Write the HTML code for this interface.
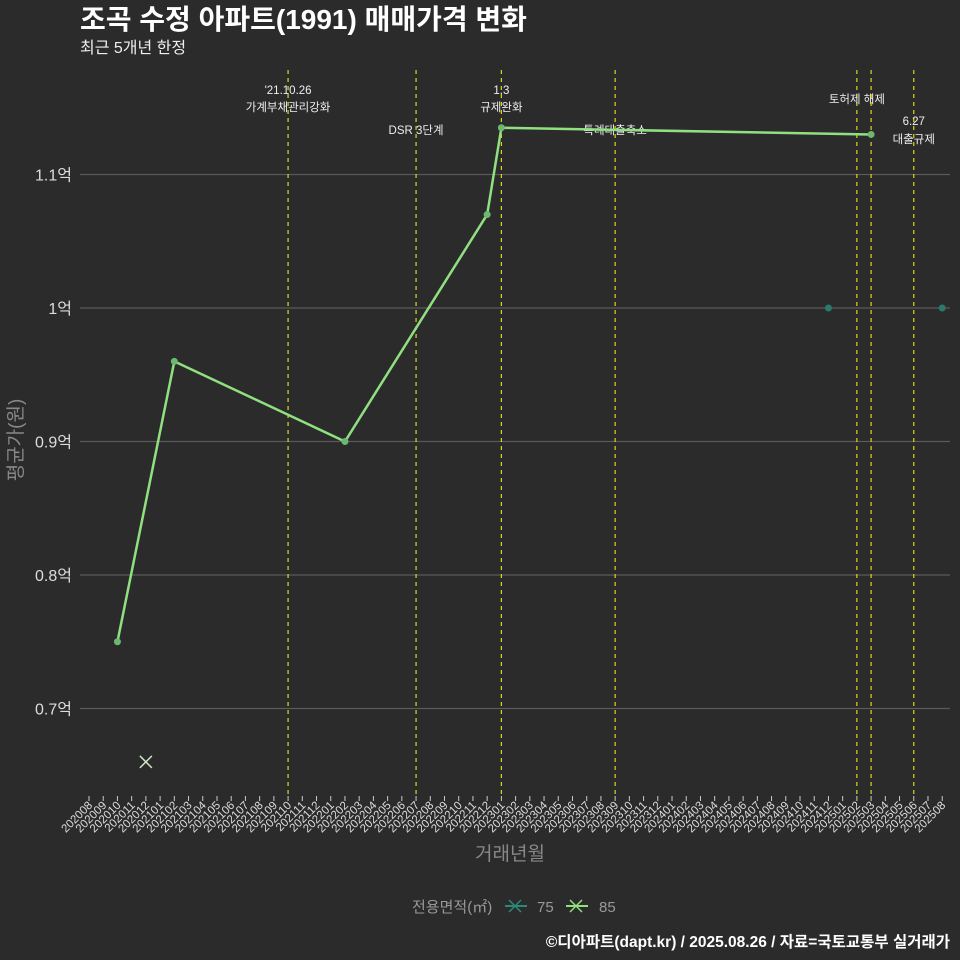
<!DOCTYPE html>
<html><head><meta charset="utf-8"><style>
body{margin:0;background:#2b2b2c;}
svg{display:block;font-family:"Liberation Sans","Noto Sans CJK KR",sans-serif;}
</style></head><body>
<svg id="chart" width="960" height="960">
<rect width="960" height="960" fill="#2b2b2c"/>
<text x="80" y="29" font-size="28" font-weight="bold" fill="#fff">조곡 수정 아파트(1991) 매매가격 변화</text>
<text x="80" y="53" font-size="16" fill="#eee">최근 5개년 한정</text>
<g id="grid"></g><g id="vlines"></g><g id="series"></g><g id="xaxis"></g><g id="yaxis"></g>
<text x="510" y="860" font-size="19" fill="#888" text-anchor="middle">거래년월</text>
<text transform="translate(22,440) rotate(-90)" font-size="19" fill="#888" text-anchor="middle">평균가(원)</text>
<g>
<text x="412" y="912" font-size="15" fill="#999">전용면적(㎡)</text>
<g><line x1="505" y1="906" x2="527" y2="906" stroke="#2a8a7a" stroke-width="2"/><path d="M509 900 L521 912 M521 900 L509 912" stroke="#2a8a7a" stroke-width="1.5"/><text x="537" y="912" font-size="15" fill="#999">75</text></g>
<g><line x1="566" y1="906" x2="588" y2="906" stroke="#90e080" stroke-width="2"/><path d="M570 900 L582 912 M582 900 L570 912" stroke="#90e080" stroke-width="1.5"/><text x="599" y="912" font-size="15" fill="#999">85</text></g>
</g>
<text x="950" y="947" font-size="15.5" font-weight="bold" fill="#fff" text-anchor="end">©디아파트(dapt.kr) / 2025.08.26 / 자료=국토교통부 실거래가</text>
</svg>
<script>
const months=[];for(let y=2020,m=8;!(y===2025&&m>8);){months.push(''+y+String(m).padStart(2,'0'));m++;if(m>12){m=1;y++;}}
const yTicks=[0.7,0.8,0.9,1.0,1.1];
const yTickLabels=['0.7억','0.8억','0.9억','1억','1.1억'];
const s85Months=['202010','202102','202202','202212','202301','202503'];
const s85Values=[0.75,0.96,0.90,1.07,1.135,1.13];
const s75Months=['202412','202508'];
const s75Values=[1.0,1.0];
const xMarkMonths=['202012'];
const xMarkValues=[0.66];
const eventMonths=['202110','202207','202301','202309','202502','202503','202506'];
const eventLabels=[["'21.10.26","가계부채관리강화"],["DSR 3단계"],["1.3","규제완화"],["특례대출축소"],["토허제 해제"],[],["6.27","대출규제"]];
const eventLabelY=[[94,111],[134],[94,111],[134],[103],[],[125,143]];
const NS='http://www.w3.org/2000/svg';
const x=m=>89+months.indexOf(m)*14.22;
const y=v=>308-(v-1.0)*1335;
function mk(tag,attrs,parent){const e=document.createElementNS(NS,tag);for(const k in attrs)e.setAttribute(k,attrs[k]);parent.appendChild(e);return e;}
const grid=document.getElementById('grid'),ya=document.getElementById('yaxis'),xa=document.getElementById('xaxis'),vl=document.getElementById('vlines'),se=document.getElementById('series');
yTicks.forEach((v,i)=>{
 const l=mk('line',{x1:80,x2:950,y1:y(v),y2:y(v),stroke:'#5a5a5a','stroke-width':1.2},grid);
 
 
 const t=mk('text',{x:72,y:y(v)+6,'font-size':16,fill:'#ddd','text-anchor':'end'},ya);t.textContent=yTickLabels[i];
 
 
});
months.forEach(m=>{
 const xx=x(m);
 mk('line',{x1:xx,x2:xx,y1:796,y2:801,stroke:'#ccc'},xa);
 const t=mk('text',{transform:`translate(${xx+4},806) rotate(-45)`,'font-size':11.5,fill:'#ddd','text-anchor':'end'},xa);t.textContent=m;
 
 
});
eventMonths.forEach((m,i)=>{
 const l=mk('line',{x1:x(m),x2:x(m),y1:70,y2:796,stroke:'#d8d820','stroke-width':1.2,'stroke-dasharray':'4,4'},vl);
 
 
 eventLabels[i].forEach((s,j)=>{const t=mk('text',{x:x(m),y:eventLabelY[i][j],'font-size':11.5,fill:'#eee','text-anchor':'middle'},vl);t.textContent=s;
 
 });
});
const p=mk('polyline',{points:s85Months.map((m,i)=>x(m)+','+y(s85Values[i])).join(' '),fill:'none',stroke:'#90e080','stroke-width':2.5},se);


s85Months.forEach((m,i)=>{const c=mk('circle',{cx:x(m),cy:y(s85Values[i]),r:3.5,fill:'#6db870'},se);
 
 });
s75Months.forEach((m,i)=>{const c=mk('circle',{cx:x(m),cy:y(s75Values[i]),r:3.5,fill:'#2a7a6a'},se);
 
 });
xMarkMonths.forEach((m,i)=>{const xx=x(m),yy=y(xMarkValues[i]);
 const pa=mk('path',{d:`M${xx-6} ${yy-6}L${xx+6} ${yy+6}M${xx+6} ${yy-6}L${xx-6} ${yy+6}`,stroke:'#cfe8c8','stroke-width':1.5},se);
 
 });
</script>
</body></html>
